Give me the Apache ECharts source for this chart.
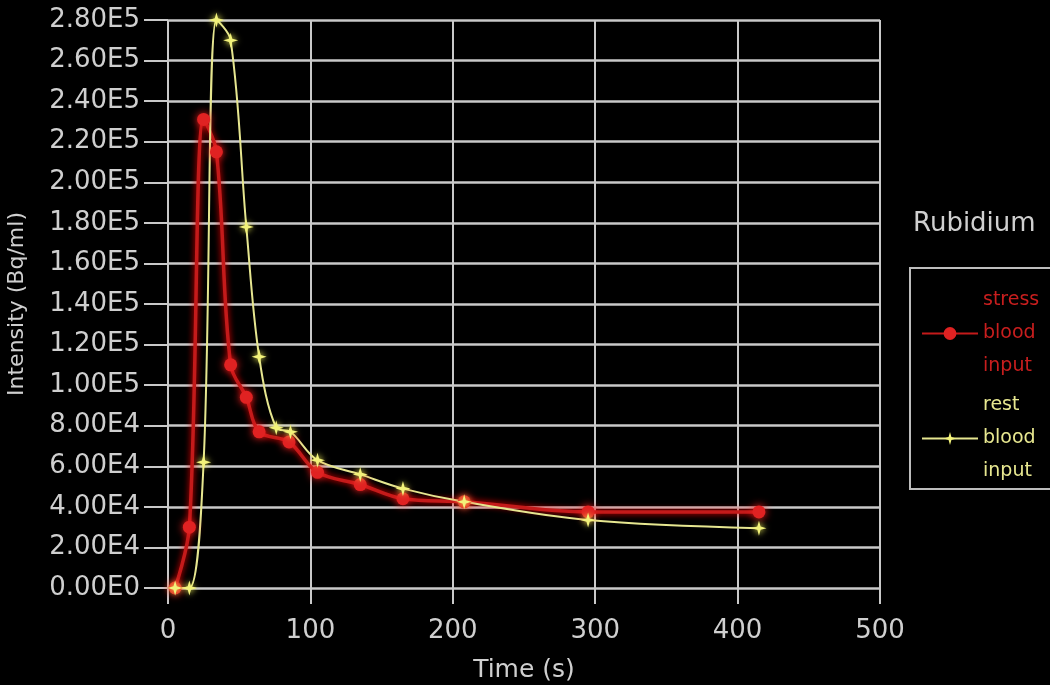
<!DOCTYPE html>
<html>
<head>
<meta charset="utf-8">
<script src="https://cdn.jsdelivr.net/npm/echarts@6/dist/echarts.min.js"></script>
<style>
html,body{margin:0;padding:0;background:#000;}
#chart{width:1050px;height:685px;}
</style>
</head>
<body>
<div id="chart"></div>
<script>
// Data
const stressTime  = [5, 15, 25, 34, 44, 55, 64, 85, 105, 135, 165, 208, 295, 415];
const stressValue = [0, 30000, 231000, 215000, 110000, 94000, 77000, 72000, 57000, 51000, 44000, 42500, 37500, 37500];
const restTime  = [5, 15, 25, 34, 44, 55, 64, 76, 86, 105, 135, 165, 208, 295, 415];
const restValue = [0, 0, 62000, 280000, 270000, 178000, 114000, 79000, 77000, 63000, 56000, 49000, 42500, 33500, 29500];
const yTickLabels = ['0.00E0','2.00E4','4.00E4','6.00E4','8.00E4','1.00E5','1.20E5','1.40E5','1.60E5','1.80E5','2.00E5','2.20E5','2.40E5','2.60E5','2.80E5'];
const xTickLabels = ['0','100','200','300','400','500'];
const seriesNames = ['stress\nblood\ninput', 'rest\nblood\ninput'];
const titleText = 'Rubidium';

const pair = (xs, ys) => xs.map((x, i) => [x, ys[i]]);
const gridGray = '#c9c9c9';
const textGray = '#cfcfcf';
const font = 'DejaVu Sans';
const star = 'path://M0,-10 L2.2,-2.2 L10,0 L2.2,2.2 L0,10 L-2.2,2.2 L-10,0 L-2.2,-2.2 Z';

const chart = echarts.init(document.getElementById('chart'));
chart.setOption({
  backgroundColor: '#000',
  animation: false,
  title: {
    text: titleText, left: 908, top: 206,
    textStyle: { color: textGray, fontSize: 26, fontWeight: 'normal', fontFamily: font }
  },
  grid: { left: 168, right: 170, top: 20, bottom: 97, containLabel: false, outerBoundsMode: 'none' },
  xAxis: {
    type: 'value', min: 0, max: 500, interval: 100,
    name: 'Time (s)', nameLocation: 'middle', nameGap: 70,
    nameTextStyle: { color: textGray, fontSize: 25, fontFamily: font },
    axisLine: { show: false },
    axisTick: { show: true, length: 16, lineStyle: { color: gridGray, width: 2 } },
    axisLabel: { color: textGray, fontSize: 26, fontFamily: font, margin: 30,
      formatter: v => xTickLabels[Math.round(v / 100)] },
    splitLine: { show: true, lineStyle: { color: gridGray, width: 2 } }
  },
  yAxis: {
    type: 'value', min: 0, max: 280000, interval: 20000,
    name: 'Intensity (Bq/ml)', nameLocation: 'middle', nameGap: 140, nameRotate: 90,
    nameTextStyle: { color: textGray, fontSize: 22, fontFamily: font },
    axisLine: { show: false },
    axisTick: { show: true, length: 24, lineStyle: { color: gridGray, width: 2 } },
    axisLabel: { color: textGray, fontSize: 26, fontFamily: font, margin: 28,
      formatter: v => yTickLabels[Math.round(v / 20000)] },
    splitLine: { show: true, lineStyle: { color: gridGray, width: 2.5 } }
  },
  legend: {
    orient: 'vertical', left: 916, top: 279,
    itemWidth: 56, itemHeight: 16, itemGap: 6,
    textStyle: { fontSize: 19, lineHeight: 33, fontFamily: font },
    data: [
      { name: seriesNames[0], textStyle: { color: '#c81e1e' } },
      { name: seriesNames[1], textStyle: { color: '#e8e890' } }
    ]
  },
  graphic: [{
    type: 'rect', shape: { x: 910, y: 268, width: 160, height: 221 },
    style: { fill: 'none', stroke: '#bdbdbd', lineWidth: 2 }
  }],
  series: [
    {
      name: seriesNames[0], type: 'line', smooth: 0.35,
      data: pair(stressTime, stressValue),
      symbol: 'circle', symbolSize: 13,
      itemStyle: { color: '#e02222', shadowColor: '#ff2020', shadowBlur: 8 },
      lineStyle: { color: '#c41a1a', width: 3.5, shadowColor: '#ff0000', shadowBlur: 6 }
    },
    {
      name: seriesNames[1], type: 'line', smooth: 0.35,
      data: pair(restTime, restValue),
      symbol: star, symbolSize: 15,
      itemStyle: { color: '#f2f27a', shadowColor: '#ffff60', shadowBlur: 6 },
      lineStyle: { color: '#e6e690', width: 2 }
    }
  ]
});
</script>
</body>
</html>
